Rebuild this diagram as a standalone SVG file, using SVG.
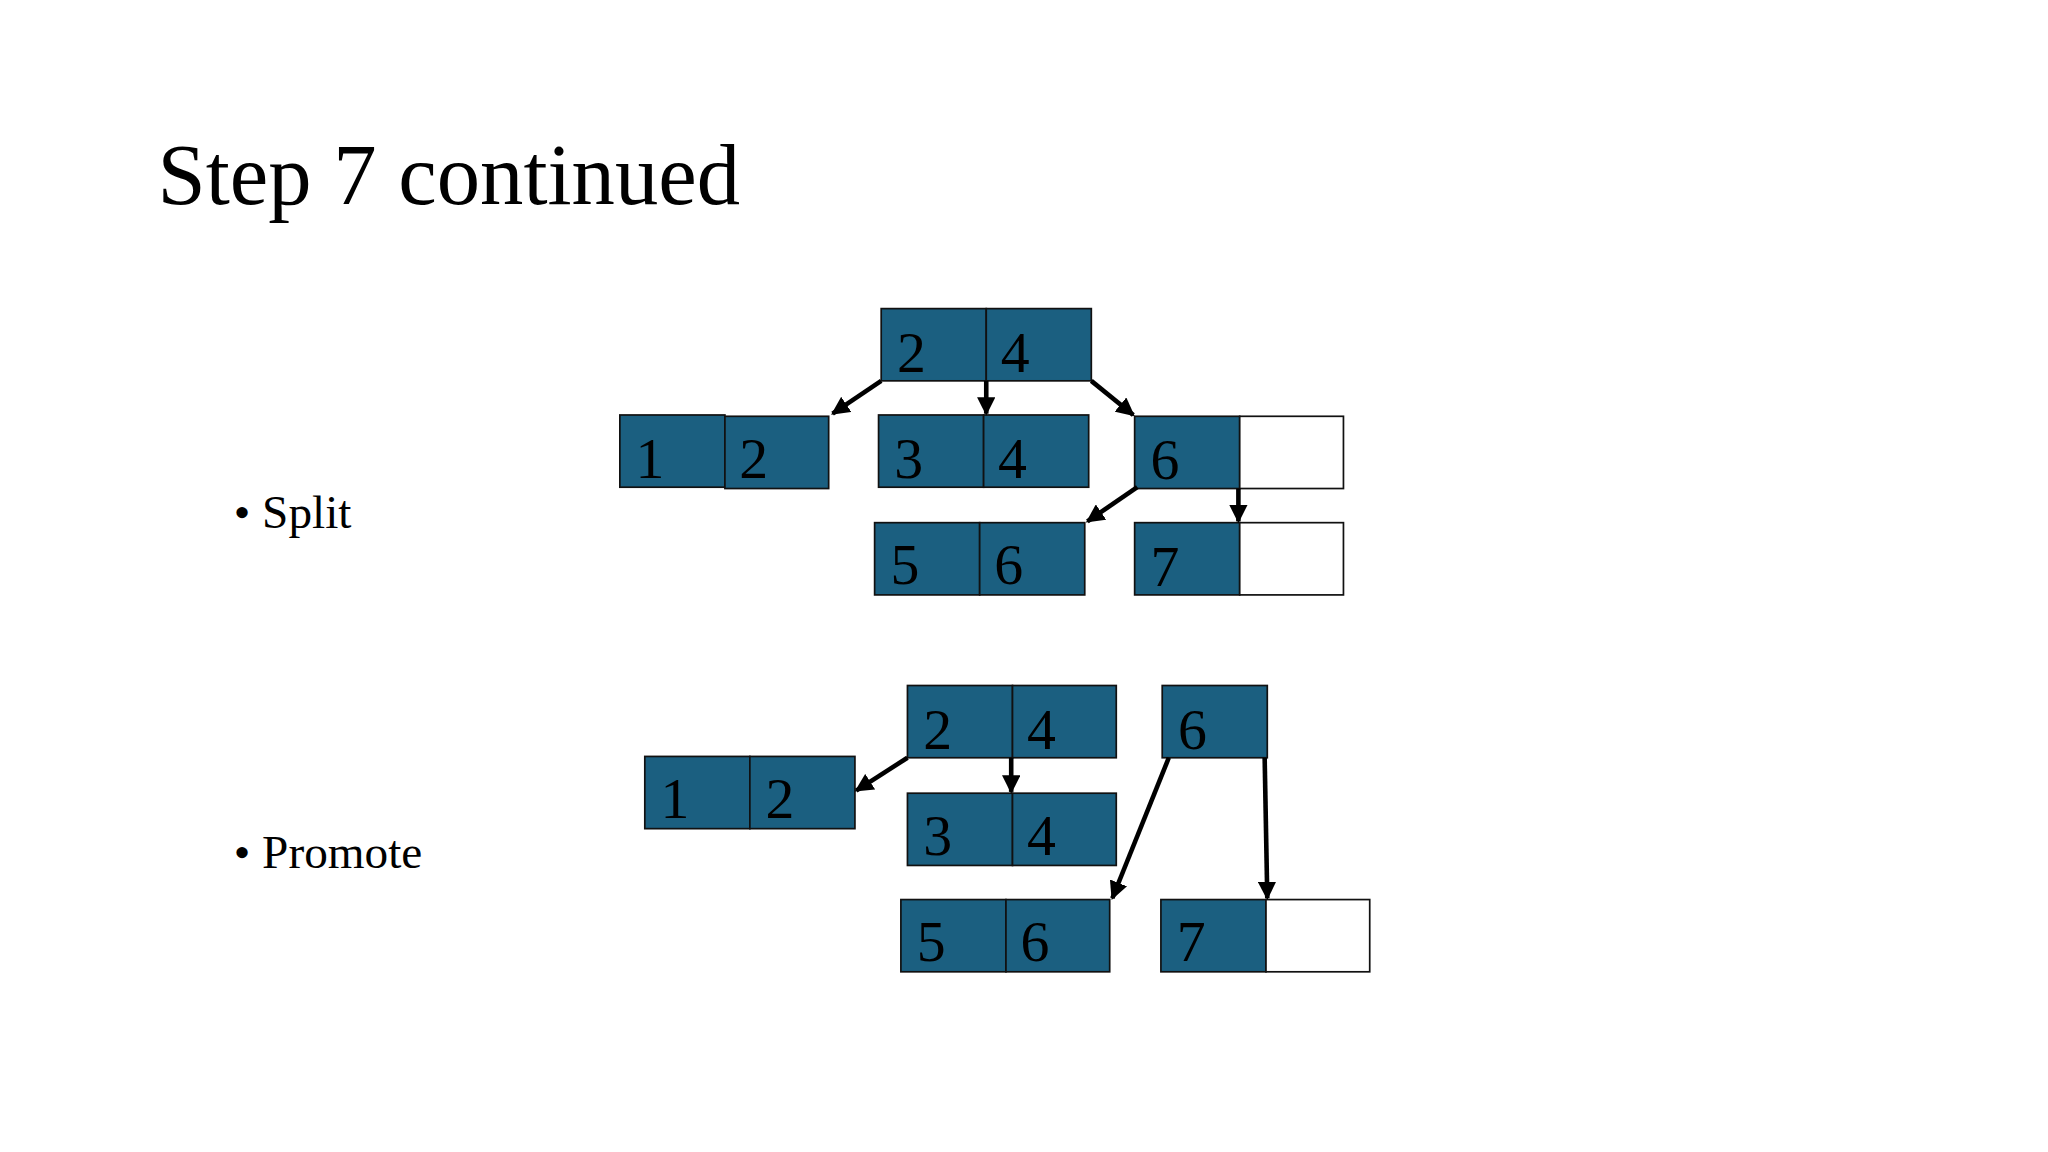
<svg xmlns="http://www.w3.org/2000/svg" width="2048" height="1152" viewBox="0 0 2048 1152">
<defs>
<style>
.c{fill:#1b5f80;stroke:#111;stroke-width:1.3}
.e{fill:#fff;stroke:#111;stroke-width:1.3}
.d{font-family:"Liberation Serif",serif;font-size:44px;fill:#000}
.t{font-family:"Liberation Serif",serif;fill:#000}
.a{stroke:#000;stroke-width:3.5;fill:none;marker-end:url(#ar)}
</style>
<marker id="ar" viewBox="0 0 10 10" refX="9" refY="5" markerWidth="4" markerHeight="4" orient="auto" markerUnits="strokeWidth"><path d="M0,0L10,5L0,10z" fill="#000"/></marker>
</defs>
<rect width="2048" height="1152" fill="#fff"/>
<g transform="scale(1.31325)">
<text class="t" x="120" y="155" font-size="66">Step 7 continued</text>
<text class="t" x="178" y="402" font-size="36">• Split</text>
<text class="t" x="178" y="661" font-size="36">• Promote</text>

<g id="s-root"><rect class="c" x="671" y="235" width="80" height="55"/><rect class="c" x="751" y="235" width="80" height="55"/><text class="d" x="683" y="283">2</text><text class="d" x="762" y="283">4</text></g>
<g id="s-12"><rect class="c" x="472" y="316" width="80" height="55"/><rect class="c" x="552" y="317" width="79" height="55"/><text class="d" x="484" y="364">1</text><text class="d" x="563" y="364">2</text></g>
<g id="s-34"><rect class="c" x="669" y="316" width="80" height="55"/><rect class="c" x="749" y="316" width="80" height="55"/><text class="d" x="681" y="364">3</text><text class="d" x="760" y="364">4</text></g>
<g id="s-6"><rect class="c" x="864" y="317" width="80" height="55"/><rect class="e" x="944" y="317" width="79" height="55"/><text class="d" x="876" y="365">6</text></g>
<g id="s-56"><rect class="c" x="666" y="398" width="80" height="55"/><rect class="c" x="746" y="398" width="80" height="55"/><text class="d" x="678" y="445">5</text><text class="d" x="757" y="445">6</text></g>
<g id="s-7"><rect class="c" x="864" y="398" width="80" height="55"/><rect class="e" x="944" y="398" width="79" height="55"/><text class="d" x="876" y="446">7</text></g>

<g id="p-24"><rect class="c" x="691" y="522" width="80" height="55"/><rect class="c" x="771" y="522" width="79" height="55"/><text class="d" x="703" y="570">2</text><text class="d" x="782" y="570">4</text></g>
<g id="p-6"><rect class="c" x="885" y="522" width="80" height="55"/><text class="d" x="897" y="570">6</text></g>
<g id="p-12"><rect class="c" x="491" y="576" width="80" height="55"/><rect class="c" x="571" y="576" width="80" height="55"/><text class="d" x="503" y="623">1</text><text class="d" x="583" y="623">2</text></g>
<g id="p-34"><rect class="c" x="691" y="604" width="80" height="55"/><rect class="c" x="771" y="604" width="79" height="55"/><text class="d" x="703" y="651">3</text><text class="d" x="782" y="651">4</text></g>
<g id="p-56"><rect class="c" x="686" y="685" width="80" height="55"/><rect class="c" x="766" y="685" width="79" height="55"/><text class="d" x="698" y="732">5</text><text class="d" x="777" y="732">6</text></g>
<g id="p-7"><rect class="c" x="884" y="685" width="80" height="55"/><rect class="e" x="964" y="685" width="79" height="55"/><text class="d" x="896" y="732">7</text></g>

<g id="connectors">
<line class="a" x1="671" y1="290" x2="634" y2="315"/>
<line class="a" x1="751" y1="290" x2="751" y2="315"/>
<line class="a" x1="831" y1="290" x2="863" y2="316"/>
<line class="a" x1="866" y1="371" x2="828" y2="397"/>
<line class="a" x1="943" y1="372" x2="943" y2="397"/>
<line class="a" x1="691" y1="577" x2="652" y2="602"/>
<line class="a" x1="770" y1="577" x2="770" y2="603"/>
<line class="a" x1="890" y1="577" x2="847" y2="684"/>
<line class="a" x1="963" y1="577" x2="965" y2="684"/>
</g>
</g>
</svg>
